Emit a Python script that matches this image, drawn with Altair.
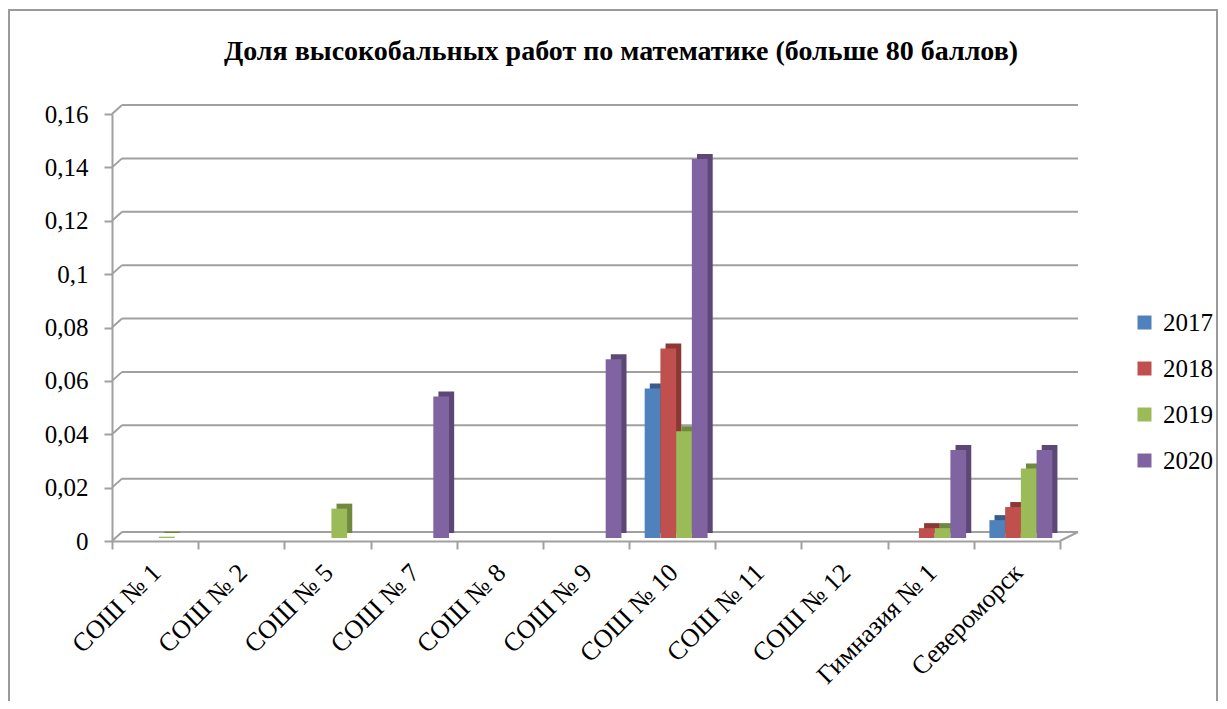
import altair as alt
import pandas as pd

categories = ["СОШ № 1", "СОШ № 2", "СОШ № 5", "СОШ № 7", "СОШ № 8", "СОШ № 9",
              "СОШ № 10", "СОШ № 11", "СОШ № 12", "Гимназия № 1", "Североморск"]
years = ["2017", "2018", "2019", "2020"]
v2017 = [0, 0, 0, 0, 0, 0, 0.056, 0, 0, 0, 0.0067]
v2018 = [0, 0, 0, 0, 0, 0, 0.071, 0, 0, 0.0037, 0.0116]
v2019 = [0.0005, 0, 0.011, 0, 0, 0, 0.040, 0, 0, 0.0037, 0.026]
v2020 = [0, 0, 0, 0.053, 0, 0.067, 0.142, 0, 0, 0.033, 0.033]
ticks = [0, 0.02, 0.04, 0.06, 0.08, 0.1, 0.12, 0.14, 0.16]
colors = ["#4F81BD", "#C0504D", "#9BBB59", "#8064A2"]
dark = ["#385D8A", "#8C3836", "#71893F", "#5C4776"]
title_text = "Доля высокобальных работ по математике (больше 80 баллов)"

rows = []
for vals, y in zip([v2017, v2018, v2019, v2020], years):
    for c, v in zip(categories, vals):
        rows.append({"cat": c, "year": y, "value": v})
df = pd.DataFrame(rows)
grid_df = pd.DataFrame({"value": ticks})

FONT = "Liberation Serif, Times New Roman, serif"
GRID = "#a0a0a0"
W, H = 948, 427
DX, DY = 10, -9  # depth of the back wall

yscale = alt.Scale(domain=[0, 0.16], nice=False)
xenc = alt.X("cat:N", sort=categories, title=None,
             scale=alt.Scale(domain=categories, paddingInner=0, paddingOuter=0),
             axis=alt.Axis(labelAngle=-45, labelFont=FONT, labelFontSize=26,
                           labelColor="black", tickBand="extent", tickSize=8,
                           tickColor=GRID, domainColor=GRID, labelOffset=-8,
                           tickWidth=2, domainWidth=2, labelPadding=10))
xoff_front = alt.XOffset("year:N", sort=years,
                         scale=alt.Scale(domain=years, paddingInner=0, paddingOuter=0.74, align=0.67))
xoff_side = alt.XOffset("year:N", sort=years,
                        scale=alt.Scale(domain=years, paddingInner=0, paddingOuter=0.74, align=0.89))
yaxis = alt.Axis(values=ticks,
                 labelExpr="replace(format(datum.value, '~g'), '.', ',')",
                 labelFont=FONT, labelFontSize=25, labelColor="black",
                 tickSize=8, tickColor=GRID, tickWidth=2,
                 domainColor=GRID, domainWidth=2, labelPadding=16,
                 grid=False)
yenc = alt.Y("value:Q", title=None, scale=yscale, axis=yaxis)

grid_h = alt.Chart(grid_df).mark_rule(color=GRID, strokeWidth=2, yOffset=DY).encode(
    y=yenc, x=alt.value(DX), x2=alt.value(W + 18))
grid_d = alt.Chart(grid_df).mark_rule(color=GRID, strokeWidth=2, y2Offset=DY).encode(
    y=yenc, y2="value:Q", x=alt.value(0), x2=alt.value(DX))
floor_r = alt.Chart(alt.Data(values=[{"value": 0}])).mark_rule(
    color=GRID, strokeWidth=2, y2Offset=DY).encode(
    y=yenc, y2="value:Q", x=alt.value(W), x2=alt.value(W + 18))

base = alt.Chart(df).transform_filter("datum.value > 0")

side = base.mark_bar(yOffset=-8).encode(
    x=xenc, xOffset=xoff_side, y=yenc,
    color=alt.Color("year:N", sort=years, scale=alt.Scale(domain=years, range=dark), legend=None),
)
front = base.mark_bar(yOffset=-3).encode(
    x=xenc, xOffset=xoff_front, y=yenc,
    color=alt.Color("year:N", sort=years, title=None,
                    scale=alt.Scale(domain=years, range=colors),
                    legend=alt.Legend(orient="none", legendX=1020, legendY=196,
                                      symbolType="square", symbolSize=196,
                                      symbolStrokeWidth=0, labelFont=FONT,
                                      labelFontSize=25, labelColor="black",
                                      rowPadding=20, labelOffset=6)),
)
frame = alt.Chart(alt.Data(values=[{"a": 1}])).mark_rect(
    fill=None, stroke="#9a9a9a", strokeWidth=2, clip=False
).encode(x=alt.value(-103), x2=alt.value(1105), y=alt.value(-104), y2=alt.value(640))

title = alt.Chart(alt.Data(values=[{"t": title_text}])).mark_text(
    font=FONT, fontSize=28, fontWeight="bold", color="black", align="center", baseline="middle"
).encode(x=alt.value(509), y=alt.value(-62), text="t:N")

chart = alt.layer(frame, grid_h, grid_d, floor_r, side, front, title).resolve_scale(
    color="independent", xOffset="independent").properties(
    width=W, height=H,
    autosize=alt.AutoSizeParams(type="none"),
    padding={"left": 104, "top": 106, "right": 159, "bottom": 160},
).configure_view(stroke=None)

chart.save("out.html", embed_options={"renderer": "svg", "actions": False})
